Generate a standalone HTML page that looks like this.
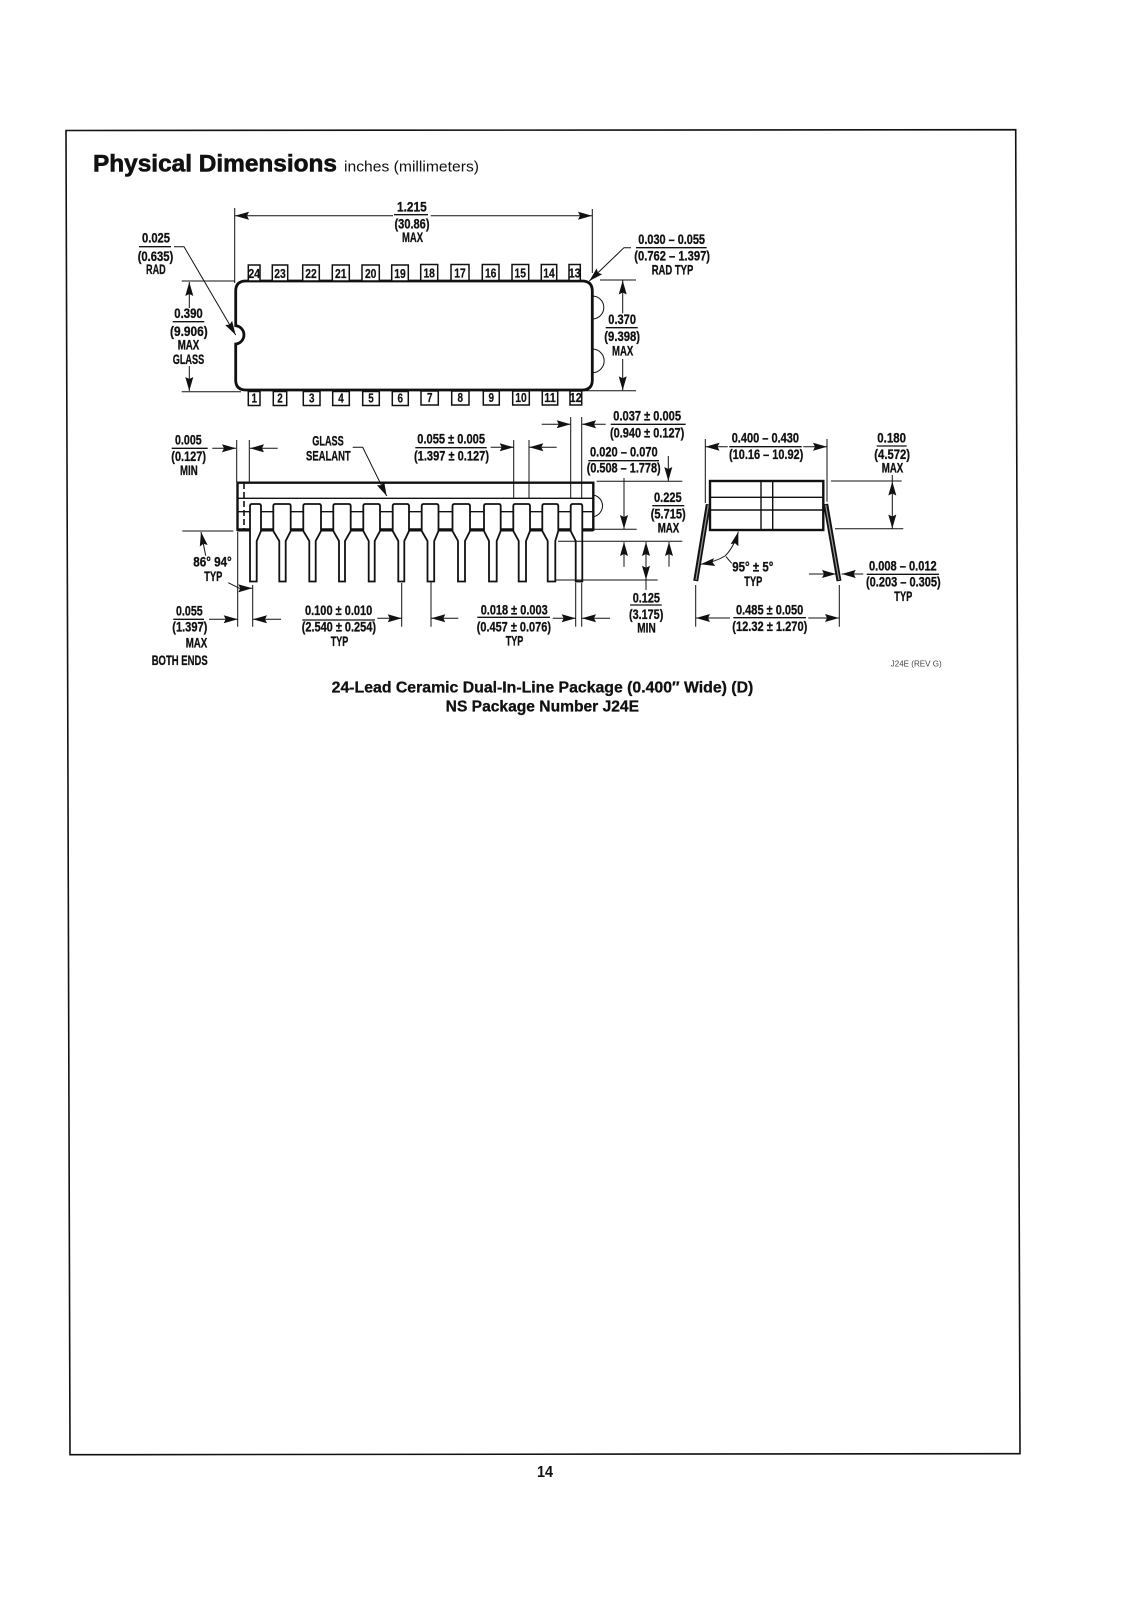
<!DOCTYPE html>
<html>
<head>
<meta charset="utf-8">
<title>Physical Dimensions</title>
<style>
html,body{margin:0;padding:0;background:#fff;width:1132px;height:1600px;overflow:hidden}
svg{display:block}
text{font-family:"Liberation Sans",sans-serif;fill:#111}
.d{font-size:13.5px;font-weight:700;stroke:#111;stroke-width:.3}
.p{font-size:13px;font-weight:700;text-anchor:middle;stroke:#111;stroke-width:.2}
.l{stroke:#111;stroke-width:1;fill:none}
.u{stroke:#111;stroke-width:1.3;fill:none}
.a{stroke:#111;stroke-width:1;fill:none;marker-end:url(#ah)}
.b{stroke:#111;stroke-width:1.5;fill:#fff}
.pin{stroke:#111;stroke-width:1.8;fill:#fff}
</style>
</head>
<body>
<svg xmlns="http://www.w3.org/2000/svg" width="1132" height="1600" viewBox="0 0 1132 1600">
<defs>
<marker id="ah" markerUnits="userSpaceOnUse" markerWidth="15" markerHeight="10" refX="14" refY="5" orient="auto">
<path d="M0 1L14 5L0 9L2 5Z" fill="#111"/>
</marker>
</defs>
<rect width="1132" height="1600" fill="#fff"/>

<!-- page frame -->
<path d="M66 130.5L1015.7 129.7L1020 1453.7L70 1454.7Z" fill="none" stroke="#111" stroke-width="1.6"/>

<!-- titles -->
<text x="93" y="171.7" font-size="24" font-weight="700" textLength="244" lengthAdjust="spacingAndGlyphs" style="stroke:#111;stroke-width:.6">Physical Dimensions</text>
<text x="344" y="171.7" font-size="15" textLength="135" lengthAdjust="spacingAndGlyphs">inches (millimeters)</text>
<text x="331.7" y="692.3" font-size="15.5" font-weight="700" textLength="421.6" lengthAdjust="spacingAndGlyphs" style="stroke:#111;stroke-width:.3">24-Lead Ceramic Dual-In-Line Package (0.400″  Wide) (D)</text>
<text x="445.7" y="711.7" font-size="15.5" font-weight="700" textLength="193.3" lengthAdjust="spacingAndGlyphs" style="stroke:#111;stroke-width:.3">NS Package Number J24E</text>
<text x="537" y="1477" font-size="16" font-weight="700" textLength="16" lengthAdjust="spacingAndGlyphs">14</text>
<text x="890.7" y="666.7" font-size="8" textLength="51" lengthAdjust="spacingAndGlyphs" style="fill:#444">J24E (REV G)</text>

<!-- TOP VIEW -->
<path d="M246 281H582Q592.3 281 592.3 291V380Q592.3 390 582 390H246Q235.7 390 235.7 380V344A9.2 9.2 0 0 0 235.7 325.7V291Q235.7 281 246 281Z" fill="#fff" stroke="#111" stroke-width="2.8"/>
<path class="l" d="M592.3 296A11.5 11.5 0 0 1 592.3 319M592.3 349A11.8 11.8 0 0 1 592.3 372.7"/>

<!-- top pins -->
<rect class="b" x="248.3" y="265" width="11.7" height="16"/><text class="p" x="254.2" y="278" textLength="12" lengthAdjust="spacingAndGlyphs">24</text>
<rect class="b" x="272.3" y="265" width="15.4" height="16"/><text class="p" x="280" y="278" textLength="11.5" lengthAdjust="spacingAndGlyphs">23</text>
<rect class="b" x="302.7" y="265" width="16.6" height="16"/><text class="p" x="311" y="278" textLength="11.5" lengthAdjust="spacingAndGlyphs">22</text>
<rect class="b" x="332.3" y="265" width="17" height="16"/><text class="p" x="340.8" y="278" textLength="11.5" lengthAdjust="spacingAndGlyphs">21</text>
<rect class="b" x="362" y="265" width="17.3" height="16"/><text class="p" x="370.7" y="278" textLength="11.5" lengthAdjust="spacingAndGlyphs">20</text>
<rect class="b" x="391.7" y="265" width="16.6" height="16"/><text class="p" x="400" y="278" textLength="11.5" lengthAdjust="spacingAndGlyphs">19</text>
<rect class="b" x="420.7" y="264.5" width="17" height="16"/><text class="p" x="429.2" y="277.5" textLength="11.5" lengthAdjust="spacingAndGlyphs">18</text>
<rect class="b" x="451" y="264.5" width="18" height="16"/><text class="p" x="460" y="277.5" textLength="11.5" lengthAdjust="spacingAndGlyphs">17</text>
<rect class="b" x="482.3" y="264.5" width="16.7" height="16"/><text class="p" x="490.7" y="277.5" textLength="11.5" lengthAdjust="spacingAndGlyphs">16</text>
<rect class="b" x="512" y="264.5" width="16.7" height="16"/><text class="p" x="520.3" y="277.5" textLength="11.5" lengthAdjust="spacingAndGlyphs">15</text>
<rect class="b" x="541.3" y="264.5" width="15.4" height="16"/><text class="p" x="549" y="277.5" textLength="11.5" lengthAdjust="spacingAndGlyphs">14</text>
<rect class="b" x="569" y="264.5" width="11.3" height="16"/><text class="p" x="574.7" y="277.5" textLength="12" lengthAdjust="spacingAndGlyphs">13</text>

<!-- bottom pins -->
<rect class="b" x="248.3" y="391.5" width="11.7" height="14"/><text class="p" x="254.2" y="402.7" textLength="5.5" lengthAdjust="spacingAndGlyphs">1</text>
<rect class="b" x="273.3" y="391.5" width="13.4" height="14"/><text class="p" x="280" y="402.7" textLength="5.5" lengthAdjust="spacingAndGlyphs">2</text>
<rect class="b" x="303.3" y="391.5" width="16.7" height="14"/><text class="p" x="311.7" y="402.7" textLength="5.5" lengthAdjust="spacingAndGlyphs">3</text>
<rect class="b" x="332.7" y="391.5" width="16.6" height="14"/><text class="p" x="341" y="402.7" textLength="5.5" lengthAdjust="spacingAndGlyphs">4</text>
<rect class="b" x="362.7" y="391.5" width="16.6" height="14"/><text class="p" x="371" y="402.7" textLength="5.5" lengthAdjust="spacingAndGlyphs">5</text>
<rect class="b" x="392.3" y="391.5" width="16" height="14"/><text class="p" x="400.3" y="402.7" textLength="5.5" lengthAdjust="spacingAndGlyphs">6</text>
<rect class="b" x="421" y="391" width="17.3" height="14"/><text class="p" x="429.7" y="402.2" textLength="5.5" lengthAdjust="spacingAndGlyphs">7</text>
<rect class="b" x="451.7" y="391" width="17.3" height="14"/><text class="p" x="460.3" y="402.2" textLength="5.5" lengthAdjust="spacingAndGlyphs">8</text>
<rect class="b" x="483.3" y="391" width="16" height="14"/><text class="p" x="491.3" y="402.2" textLength="5.5" lengthAdjust="spacingAndGlyphs">9</text>
<rect class="b" x="512.7" y="391" width="16.6" height="14"/><text class="p" x="521" y="402.2" textLength="11.5" lengthAdjust="spacingAndGlyphs">10</text>
<rect class="b" x="542.3" y="391" width="15.4" height="14"/><text class="p" x="550" y="402.2" textLength="11.5" lengthAdjust="spacingAndGlyphs">11</text>
<rect class="b" x="570" y="391" width="11.7" height="14"/><text class="p" x="575.8" y="402.2" textLength="12" lengthAdjust="spacingAndGlyphs">12</text>

<!-- 1.215 -->
<path class="l" d="M234.7 208V283M592.3 209V273"/>
<path class="a" d="M393 215.7H235"/><path class="a" d="M430.7 215.7H592"/>
<path class="u" d="M394 214.7H428"/>
<text class="d" x="397" y="211.7" textLength="29.7" lengthAdjust="spacingAndGlyphs">1.215</text>
<text class="d" x="394.5" y="228.5" textLength="35" lengthAdjust="spacingAndGlyphs">(30.86)</text>
<text class="d" x="402" y="242" textLength="21" lengthAdjust="spacingAndGlyphs">MAX</text>

<!-- 0.025 RAD -->
<path class="u" d="M139 246.7H171"/>
<text class="d" x="142" y="242.7" textLength="28" lengthAdjust="spacingAndGlyphs">0.025</text>
<text class="d" x="137.7" y="261" textLength="35.6" lengthAdjust="spacingAndGlyphs">(0.635)</text>
<text class="d" x="146" y="274" textLength="19.7" lengthAdjust="spacingAndGlyphs">RAD</text>
<path class="a" d="M174 246.7H184L235.7 335"/>

<!-- 0.390 -->
<path class="l" d="M181.7 281H235M181.7 391.7H241"/>
<path class="a" d="M189.3 308V282"/><path class="a" d="M189.3 366V391"/>
<path class="u" d="M172.7 321.7H204.3"/>
<text class="d" x="174.3" y="318" textLength="28.4" lengthAdjust="spacingAndGlyphs">0.390</text>
<text class="d" x="170" y="336" textLength="37.7" lengthAdjust="spacingAndGlyphs">(9.906)</text>
<text class="d" x="177.7" y="349.3" textLength="21.6" lengthAdjust="spacingAndGlyphs">MAX</text>
<text class="d" x="172.7" y="364" textLength="31.6" lengthAdjust="spacingAndGlyphs">GLASS</text>

<!-- 0.030-0.055 -->
<path class="u" d="M636 247.7H706.7"/>
<text class="d" x="638.3" y="244" textLength="66.7" lengthAdjust="spacingAndGlyphs">0.030 – 0.055</text>
<text class="d" x="634.3" y="260.7" textLength="75.7" lengthAdjust="spacingAndGlyphs">(0.762 – 1.397)</text>
<text class="d" x="651.7" y="274.7" textLength="41.6" lengthAdjust="spacingAndGlyphs">RAD TYP</text>
<path class="a" d="M631 247.7H624L589.3 281"/>

<!-- 0.370 -->
<path class="l" d="M600 280H636M581.7 390.7H636"/>
<path class="a" d="M622.7 313.3V280.5"/><path class="a" d="M622.7 359V390.3"/>
<path class="u" d="M605.7 327.7H637.7"/>
<text class="d" x="608.3" y="324" textLength="27.7" lengthAdjust="spacingAndGlyphs">0.370</text>
<text class="d" x="604.3" y="341" textLength="35.7" lengthAdjust="spacingAndGlyphs">(9.398)</text>
<text class="d" x="612" y="355.3" textLength="21.3" lengthAdjust="spacingAndGlyphs">MAX</text>

<!-- SIDE VIEW body -->
<path d="M593.3 495A11 11 0 0 1 593.3 516.7" fill="none" stroke="#111" stroke-width="1"/>
<path d="M237.5 482.7H593.3V529.7H237.5Z" fill="#fff" stroke="#111" stroke-width="2.4"/>
<path d="M237.5 529.9H593.3" fill="none" stroke="#111" stroke-width="3.2"/>
<path d="M237.5 498.3H593.3" fill="none" stroke="#111" stroke-width="1.4"/>
<path d="M237.5 511.7H593.3" fill="none" stroke="#111" stroke-width="1.4"/>
<path d="M244 483V530" fill="none" stroke="#111" stroke-width="1.6" stroke-dasharray="6 3"/>
<!-- extension lines through body -->
<path class="l" d="M236.7 440V482M249.3 440V482M513.7 440V498M529 440V498M570.7 417V498M581.7 417V498"/>

<!-- side pins -->
<path class="pin" d="M250 581.5V506Q250 504 252 504H259Q261 504 261 506V531L256.7 541V581.5Z"/>
<path class="pin" d="M279.3 581.5V541L273.3 531V506Q273.3 504 275.3 504H288.7Q290.7 504 290.7 506V531L285.7 541V581.5Z"/>
<path class="pin" d="M309.3 581.5V541L303.3 531V506Q303.3 504 305.3 504H319Q321 504 321 506V531L315.7 541V581.5Z"/>
<path class="pin" d="M339 581.5V541L333.3 531V506Q333.3 504 335.3 504H348.7Q350.7 504 350.7 506V531L345 541V581.5Z"/>
<path class="pin" d="M368.7 581.5V541L363.3 531V506Q363.3 504 365.3 504H378Q380 504 380 506V531L374.7 541V581.5Z"/>
<path class="pin" d="M398.3 581.5V541L392.7 531V506Q392.7 504 394.7 504H407Q409 504 409 506V531L404.3 541V581.5Z"/>
<path class="pin" d="M427.5 581.5V541L421.7 531V506Q421.7 504 423.7 504H436.5Q438.5 504 438.5 506V531L434.2 541V581.5Z"/>
<path class="pin" d="M458 581.5V541L452.5 531V506Q452.5 504 454.5 504H468Q470 504 470 506V531L465 541V581.5Z"/>
<path class="pin" d="M489 581.5V541L484 531V506Q484 504 486 504H498.7Q500.7 504 500.7 506V531L496.7 541V581.5Z"/>
<path class="pin" d="M518.7 581.5V541L513.3 531V506Q513.3 504 515.3 504H528Q530 504 530 506V531L526 541V581.5Z"/>
<path class="pin" d="M547.7 581.5V541L542.3 531V506Q542.3 504 544.3 504H556.3Q558.3 504 558.3 506V531L555.3 541V581.5Z"/>
<path class="pin" d="M575.7 581.5V541L570.7 531V506Q570.7 504 572.7 504H580.3Q582.3 504 582.3 506V581.5Z"/>

<!-- 0.005 -->
<path class="u" d="M171.7 448.3H207.7"/>
<text class="d" x="175" y="444.3" textLength="26.7" lengthAdjust="spacingAndGlyphs">0.005</text>
<text class="d" x="171.3" y="461" textLength="34.7" lengthAdjust="spacingAndGlyphs">(0.127)</text>
<text class="d" x="180" y="475" textLength="17.7" lengthAdjust="spacingAndGlyphs">MIN</text>
<path class="a" d="M212.3 448.3H236"/><path class="a" d="M277.7 448.3H250"/>

<!-- glass sealant -->
<text class="d" x="312.3" y="445.7" textLength="31.4" lengthAdjust="spacingAndGlyphs">GLASS</text>
<text class="d" x="306" y="460.7" textLength="44.7" lengthAdjust="spacingAndGlyphs">SEALANT</text>
<path class="a" d="M352.7 447.3H362.7L386.7 496"/>

<!-- 0.055 +- 0.005 -->
<path class="u" d="M415.3 447.7H486.7"/>
<text class="d" x="417.3" y="443.3" textLength="67.7" lengthAdjust="spacingAndGlyphs">0.055 ± 0.005</text>
<text class="d" x="414" y="460.7" textLength="75" lengthAdjust="spacingAndGlyphs">(1.397 ± 0.127)</text>
<path class="a" d="M490.7 447.3H513.7"/><path class="a" d="M556.7 447.3H529.3"/>

<!-- 0.037 -->
<path class="u" d="M610.7 424.3H685.7"/>
<text class="d" x="613.3" y="420.7" textLength="67.7" lengthAdjust="spacingAndGlyphs">0.037 ± 0.005</text>
<text class="d" x="610" y="437.3" textLength="74.3" lengthAdjust="spacingAndGlyphs">(0.940 ± 0.127)</text>
<path class="a" d="M541.7 424.3H570.7"/><path class="a" d="M605.7 424.3H582"/>

<!-- 0.020 -->
<path class="u" d="M588.3 460.7H659"/>
<text class="d" x="590" y="456.7" textLength="67.7" lengthAdjust="spacingAndGlyphs">0.020 – 0.070</text>
<text class="d" x="586.7" y="472.7" textLength="74" lengthAdjust="spacingAndGlyphs">(0.508 – 1.778)</text>
<path class="a" d="M668.3 456V481"/>
<path class="l" d="M596.7 481.3H682.3M593 529.3H636.7M558 541.3H682.3M555 580H657.7"/>

<!-- 0.225 -->
<path class="a" d="M624 478V529"/>
<path class="u" d="M652.3 505.7H684.3"/>
<text class="d" x="654" y="502" textLength="27.7" lengthAdjust="spacingAndGlyphs">0.225</text>
<text class="d" x="650.7" y="518.3" textLength="35" lengthAdjust="spacingAndGlyphs">(5.715)</text>
<text class="d" x="657.7" y="532.3" textLength="21.6" lengthAdjust="spacingAndGlyphs">MAX</text>

<!-- 0.125 -->
<path class="a" d="M624 566.7V542"/><path class="a" d="M669 566.7V542"/>
<path class="a" d="M646 560V542"/><path class="a" d="M646 560V579.7"/>
<path class="l" d="M646 579V590"/>
<path class="u" d="M630 605H661.7"/>
<text class="d" x="632.7" y="602.3" textLength="27.3" lengthAdjust="spacingAndGlyphs">0.125</text>
<text class="d" x="629" y="619" textLength="34.3" lengthAdjust="spacingAndGlyphs">(3.175)</text>
<text class="d" x="637.3" y="632.7" textLength="18.4" lengthAdjust="spacingAndGlyphs">MIN</text>

<!-- 86 94 -->
<path class="l" d="M182.3 531H233.3"/>
<path class="a" d="M205.7 555.7L201 532"/>
<text class="d" x="193.3" y="566.7" textLength="38.4" lengthAdjust="spacingAndGlyphs">86° 94°</text>
<text class="d" x="204.3" y="581" textLength="18" lengthAdjust="spacingAndGlyphs">TYP</text>
<path class="a" d="M228.3 582.7L239.3 588.3H252.3"/>
<path class="l" d="M237.7 531.7V626.7M252.7 585V626.7"/>

<!-- 0.055 both ends -->
<path class="u" d="M173.3 619.3H204"/>
<text class="d" x="176" y="615.7" textLength="26.7" lengthAdjust="spacingAndGlyphs">0.055</text>
<text class="d" x="172.3" y="631.7" textLength="35" lengthAdjust="spacingAndGlyphs">(1.397)</text>
<text class="d" x="185.7" y="647.7" textLength="21.6" lengthAdjust="spacingAndGlyphs">MAX</text>
<text class="d" x="151.7" y="665" textLength="56" lengthAdjust="spacingAndGlyphs">BOTH ENDS</text>
<path class="a" d="M209 619.3H237.7"/><path class="a" d="M281 619.3H253"/>

<!-- 0.100 -->
<path class="u" d="M302.3 620H375"/>
<text class="d" x="305" y="615" textLength="67.3" lengthAdjust="spacingAndGlyphs">0.100 ± 0.010</text>
<text class="d" x="301.7" y="631.7" textLength="74.3" lengthAdjust="spacingAndGlyphs">(2.540 ± 0.254)</text>
<text class="d" x="330.7" y="646" textLength="17.6" lengthAdjust="spacingAndGlyphs">TYP</text>
<path class="a" d="M377.3 618.3H401.7"/>
<path class="l" d="M401.7 583V626.7M431 581.7V626.7"/>
<path class="a" d="M458.3 618.3H431.3"/>

<!-- 0.018 -->
<path class="u" d="M477.3 617.3H550"/>
<text class="d" x="480.7" y="614.3" textLength="67" lengthAdjust="spacingAndGlyphs">0.018 ± 0.003</text>
<text class="d" x="476.7" y="631.7" textLength="74.3" lengthAdjust="spacingAndGlyphs">(0.457 ± 0.076)</text>
<text class="d" x="505.7" y="645.3" textLength="17.6" lengthAdjust="spacingAndGlyphs">TYP</text>
<path class="a" d="M552.7 618.3H575.7"/>
<path class="l" d="M575.7 582.7V626.7M581.7 582.7V626.7"/>
<path class="a" d="M610 618.3H582"/>

<!-- END VIEW -->
<path class="l" d="M705.3 439V503M827 439V501.7"/>
<path class="a" d="M727.7 446.7H705.5"/><path class="a" d="M803.3 446.7H827"/>
<path class="u" d="M729.3 446.7H801.7"/>
<text class="d" x="731.7" y="442.7" textLength="67.3" lengthAdjust="spacingAndGlyphs">0.400 – 0.430</text>
<text class="d" x="729" y="459" textLength="74.3" lengthAdjust="spacingAndGlyphs">(10.16 – 10.92)</text>

<rect x="710" y="481" width="113.3" height="49" fill="#fff" stroke="#111" stroke-width="2.4"/>
<path d="M710 497.3H823.3M710 510H823.3M761 481V530M772.7 481V530" fill="none" stroke="#111" stroke-width="1.4"/>

<path d="M708.3 504.3L695.7 581" fill="none" stroke="#111" stroke-width="5"/>
<path d="M708.3 505L696 580" fill="none" stroke="#999" stroke-width="1.2"/>
<path d="M825.7 504L839 581" fill="none" stroke="#111" stroke-width="5"/>
<path d="M825.7 505L839 580" fill="none" stroke="#999" stroke-width="1.2"/>

<path class="a" d="M725 556Q734 547 738.3 531.7"/>
<path class="a" d="M725 556Q715 562 700.7 564.3"/>
<path class="l" d="M726 556.7L731.7 563.3"/>
<text class="d" x="732.3" y="571.7" textLength="41" lengthAdjust="spacingAndGlyphs">95° ± 5°</text>
<text class="d" x="744.3" y="586" textLength="18" lengthAdjust="spacingAndGlyphs">TYP</text>

<!-- 0.180 -->
<path class="u" d="M876.7 446H906.7"/>
<text class="d" x="877.3" y="442.3" textLength="28.7" lengthAdjust="spacingAndGlyphs">0.180</text>
<text class="d" x="874.3" y="459" textLength="35.7" lengthAdjust="spacingAndGlyphs">(4.572)</text>
<text class="d" x="881.7" y="472.7" textLength="21.6" lengthAdjust="spacingAndGlyphs">MAX</text>
<path class="l" d="M831 481H901.7M835 528.7H903.3M892.3 475V481"/>
<path class="a" d="M892.3 505V481.5"/><path class="a" d="M892.3 505V528.5"/>

<!-- 0.008 -->
<path class="a" d="M809 574H836"/><path class="a" d="M863.3 574H841.7"/>
<path class="u" d="M866.7 574.3H939"/>
<text class="d" x="869" y="570.7" textLength="67.7" lengthAdjust="spacingAndGlyphs">0.008 – 0.012</text>
<text class="d" x="866" y="586.7" textLength="74.7" lengthAdjust="spacingAndGlyphs">(0.203 – 0.305)</text>
<text class="d" x="894.3" y="601" textLength="18" lengthAdjust="spacingAndGlyphs">TYP</text>

<!-- 0.485 -->
<path class="l" d="M695.7 585V626.7M839.3 585V626.7"/>
<path class="a" d="M730 618H696"/><path class="a" d="M808.3 618H839"/>
<path class="u" d="M733.3 617.7H806"/>
<text class="d" x="736" y="614.3" textLength="67.3" lengthAdjust="spacingAndGlyphs">0.485 ± 0.050</text>
<text class="d" x="732.3" y="631" textLength="75" lengthAdjust="spacingAndGlyphs">(12.32 ± 1.270)</text>
</svg>
</body>
</html>
